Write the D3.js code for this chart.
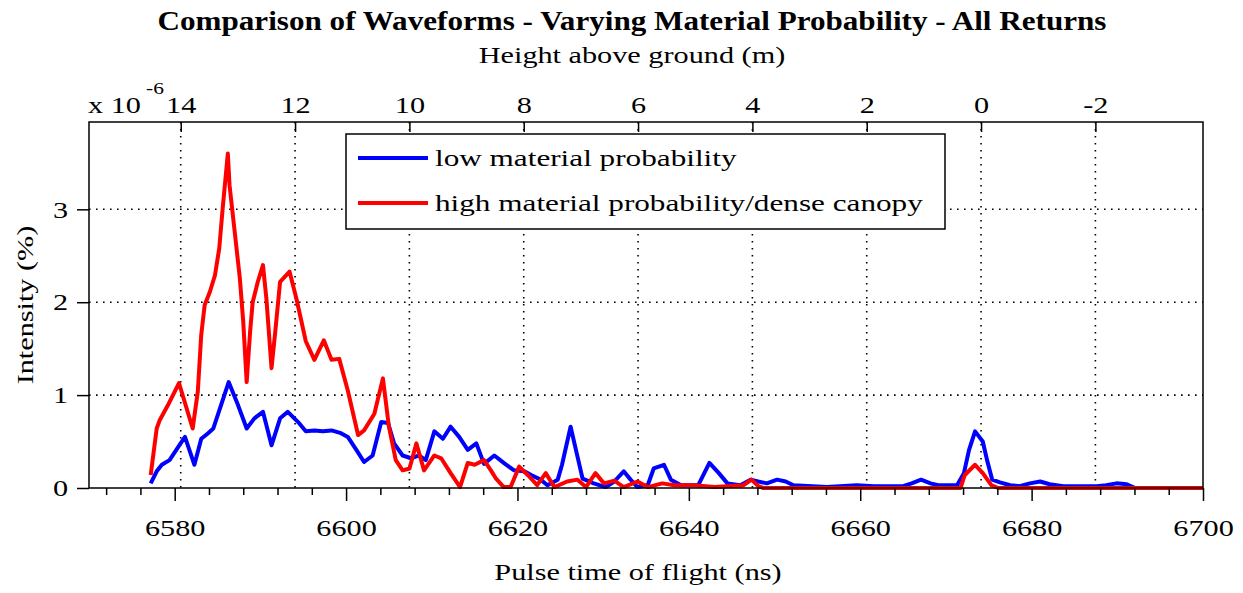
<!DOCTYPE html>
<html><head><meta charset="utf-8">
<script src="https://cdn.jsdelivr.net/npm/d3@7"></script>
<style>
body{margin:0;background:#fff}
svg{display:block}
text{font-family:"Liberation Serif","Times New Roman",serif;fill:#000}
</style>
</head><body>
<svg id="c" width="1243" height="593"></svg>
<script>
// ---- data (intensity in units of 1e-6 %) ----
const blueTimes = [6577.2,6577.9,6578.5,6579.4,6580.4,6581.2,6582.3,6583.1,6583.9,6584.5,6585.4,6586.3,6587.4,6588.4,6589.3,6590.3,6591.3,6592.3,6593.2,6594.4,6595.3,6596.3,6597.3,6598.3,6599.4,6600.2,6601.2,6602.1,6603.1,6604.1,6604.9,6605.6,6606.6,6607.6,6608.5,6609.3,6610.3,6611.3,6612.2,6613.2,6614.2,6615.2,6616.1,6617.3,6618.4,6619.6,6620.8,6621.6,6622.7,6623.5,6624.7,6625.2,6626.2,6627.0,6627.6,6628.9,6630.3,6631.3,6632.4,6633.2,6634.0,6635.2,6635.9,6637.1,6637.9,6639.1,6641.1,6642.4,6643.5,6644.5,6646.0,6647.2,6648.1,6649.1,6650.3,6651.3,6652.2,6656.1,6659.6,6661.6,6665.0,6666.0,6667.1,6668.2,6669.1,6671.3,6672.1,6672.7,6673.4,6674.3,6674.8,6675.4,6676.3,6677.5,6678.6,6679.8,6681.0,6682.1,6683.7,6687.6,6688.7,6689.9,6691.1,6692.1,6700];
const blueValues = [0.05,0.18,0.25,0.30,0.44,0.55,0.25,0.53,0.59,0.64,0.89,1.14,0.89,0.64,0.75,0.82,0.46,0.75,0.82,0.71,0.61,0.62,0.61,0.62,0.59,0.55,0.41,0.28,0.35,0.71,0.70,0.48,0.35,0.32,0.35,0.30,0.61,0.53,0.66,0.55,0.41,0.48,0.26,0.35,0.27,0.19,0.18,0.14,0.09,0.03,0.09,0.25,0.66,0.34,0.10,0.05,0.01,0.07,0.18,0.09,0.01,0.03,0.21,0.25,0.09,0.03,0.03,0.27,0.16,0.05,0.03,0.09,0.07,0.05,0.09,0.07,0.03,0.01,0.03,0.02,0.02,0.05,0.09,0.05,0.03,0.03,0.16,0.41,0.61,0.50,0.30,0.09,0.06,0.03,0.02,0.05,0.07,0.04,0.02,0.02,0.03,0.05,0.04,0.00,0.00];
const redTimes = [6577.2,6577.9,6578.25,6579.2,6580.5,6582.1,6582.7,6583.1,6583.5,6584.1,6584.7,6585.2,6585.6,6586.2,6586.4,6587.0,6587.6,6588.0,6588.4,6588.8,6589.1,6589.7,6590.3,6590.7,6591.3,6591.7,6592.3,6593.4,6594.2,6595.3,6596.3,6597.4,6598.3,6599.2,6600.2,6601.4,6602.1,6603.3,6604.3,6605.0,6605.8,6606.6,6607.4,6608.2,6609.1,6610.3,6611.1,6612.2,6613.3,6614.2,6615.0,6616.1,6616.9,6617.5,6618.4,6619.2,6620.2,6621.2,6622.3,6623.3,6624.3,6625.8,6627.0,6628.0,6629.1,6630.1,6631.3,6632.4,6634.0,6635.2,6636.9,6638.3,6640.6,6643.0,6646.4,6647.3,6648.1,6648.7,6671.7,6672.2,6673.4,6674.3,6675.3,6676.1,6700];
const redValues = [0.14,0.64,0.73,0.89,1.13,0.64,1.04,1.65,1.97,2.11,2.29,2.58,3.01,3.60,3.26,2.76,2.26,1.79,1.14,1.68,2.00,2.22,2.40,2.04,1.29,1.65,2.22,2.33,2.04,1.58,1.38,1.59,1.38,1.39,1.05,0.57,0.62,0.80,1.18,0.66,0.30,0.19,0.21,0.48,0.19,0.35,0.32,0.16,0.01,0.27,0.25,0.30,0.19,0.10,0.01,0.01,0.23,0.14,0.03,0.16,0.01,0.07,0.09,0.01,0.16,0.05,0.08,0.01,0.07,0.01,0.05,0.03,0.03,0.01,0.03,0.09,0.02,0.00,0.00,0.14,0.25,0.16,0.03,0.00,0.00];
const seriesNames = ["low material probability","high material probability/dense canopy"];
const seriesColors = ["#0000ff","#ff0000"];
const timeDomain = [6570,6700];
const intensityDomain = [0,3.94];
const xMajorTicks = [6580,6600,6620,6640,6660,6680,6700];
const xMinorTicks = [6572,6576,6584,6588,6592,6596,6604,6608,6612,6616,6624,6628,6632,6636,6644,6648,6652,6656,6664,6668,6672,6676,6684,6688,6692,6696];
const yTicks = [0,1,2,3];
const heightTicks = [14,12,10,8,6,4,2,0,-2];
const groundTime = 6674.1;      // ns at 0 m height
const metresPerNs = 0.1499;     // c/2

const svg = d3.select("#c");
const L=89, R=1203, T=122, B=488;
const FS = 24, STRETCH = 1.26;
const x = d3.scaleLinear().domain(timeDomain).range([L,R]);
const y = d3.scaleLinear().domain(intensityDomain).range([B,T]);
const hOf = t => (groundTime - t) * metresPerNs;
const xh = d3.scaleLinear().domain(timeDomain.map(hOf)).range([L,R]);
const plain = d => String(d);

function stretch(sel, f){
  sel.each(function(){
    const len = this.getComputedTextLength();
    d3.select(this).attr("textLength", len*f).attr("lengthAdjust","spacingAndGlyphs");
  });
}

// grid
const grid = svg.append("g").attr("stroke","#000").attr("stroke-width",1.6).attr("stroke-dasharray","1.6,5.4");
grid.selectAll("line.v").data(heightTicks).join("line").attr("class","v")
  .attr("x1",d=>xh(d)).attr("x2",d=>xh(d)).attr("y1",T).attr("y2",B);
grid.selectAll("line.h").data(yTicks.filter(d=>d>0)).join("line").attr("class","h")
  .attr("x1",L).attr("x2",R).attr("y1",d=>y(d)).attr("y2",d=>y(d));

// series
const line = (ts, vs) => d3.line().x((d,i)=>x(ts[i])).y((d,i)=>y(vs[i]))(vs);
svg.append("path").attr("d", line(blueTimes, blueValues)).attr("fill","none")
  .attr("stroke",seriesColors[0]).attr("stroke-width",4).attr("stroke-linejoin","round");
svg.append("path").attr("d", line(redTimes, redValues)).attr("fill","none")
  .attr("stroke",seriesColors[1]).attr("stroke-width",4).attr("stroke-linejoin","round");

// axes
function styleAxis(g){
  g.select(".domain").remove();
  g.attr("font-family",null).attr("font-size",null);
  g.selectAll(".tick line").attr("stroke","#000").attr("stroke-width",1.5);
  g.selectAll("text").style("font-size",FS+"px");
}
const gMinor = svg.append("g").attr("transform",`translate(0,${B})`)
  .call(d3.axisBottom(x).tickValues(xMinorTicks).tickSize(7).tickSizeOuter(0).tickFormat(""));
styleAxis(gMinor);
const gx = svg.append("g").attr("transform",`translate(0,${B})`)
  .call(d3.axisBottom(x).tickValues(xMajorTicks).tickSize(13).tickSizeOuter(0).tickPadding(18).tickFormat(plain));
styleAxis(gx);
const gy = svg.append("g").attr("transform",`translate(${L},0)`)
  .call(d3.axisLeft(y).tickValues(yTicks).tickSize(12).tickSizeOuter(0).tickPadding(9).tickFormat(plain));
styleAxis(gy);
const gt = svg.append("g").attr("transform",`translate(0,${T})`)
  .call(d3.axisTop(xh).tickValues(heightTicks).tickSize(-10).tickSizeOuter(0).tickPadding(9).tickFormat(plain));
styleAxis(gt);
[gx,gy,gt].forEach(g=>stretch(g.selectAll("text"),STRETCH));

// frame
svg.append("rect").attr("x",L).attr("y",T).attr("width",R-L).attr("height",B-T)
  .attr("fill","none").attr("stroke","#000").attr("stroke-width",1.5);

// exponent label
const ex = svg.append("text").attr("x",88).attr("y",113).style("font-size",FS+"px").text("x 10");
stretch(ex,STRETCH);
const sup = svg.append("text").attr("x",146).attr("y",94).style("font-size","17px").text("-6");
stretch(sup,STRETCH);

// titles
svg.append("text").attr("x",632).attr("y",30).attr("text-anchor","middle")
  .style("font-size","27px").style("font-weight","bold")
  .attr("textLength",949).attr("lengthAdjust","spacingAndGlyphs")
  .text("Comparison of Waveforms - Varying Material Probability - All Returns");
stretch(svg.append("text").attr("x",632).attr("y",63).attr("text-anchor","middle")
  .style("font-size",FS+"px").text("Height above ground (m)"),STRETCH);
stretch(svg.append("text").attr("x",638).attr("y",580).attr("text-anchor","middle")
  .style("font-size",FS+"px").text("Pulse time of flight (ns)"),STRETCH);
stretch(svg.append("text").attr("transform",`translate(33,${(T+B)/2}) rotate(-90)`).attr("text-anchor","middle")
  .style("font-size",FS+"px").text("Intensity (%)"),STRETCH);

// legend
const lg = svg.append("g");
lg.append("rect").attr("x",346).attr("y",134).attr("width",599).attr("height",95)
  .attr("fill","#fff").attr("stroke","#000").attr("stroke-width",1.5);
const rows = lg.selectAll("g.row").data(seriesNames).join("g").attr("class","row")
  .attr("transform",(d,i)=>`translate(0,${158+i*45})`);
rows.append("line").attr("x1",358).attr("x2",428).attr("y1",0).attr("y2",0)
  .attr("stroke",(d,i)=>seriesColors[i]).attr("stroke-width",4);
const lt = rows.append("text").attr("x",435).attr("y",8).style("font-size",FS+"px").text(d=>d);
stretch(lt,1.3);
</script>
</body></html>
